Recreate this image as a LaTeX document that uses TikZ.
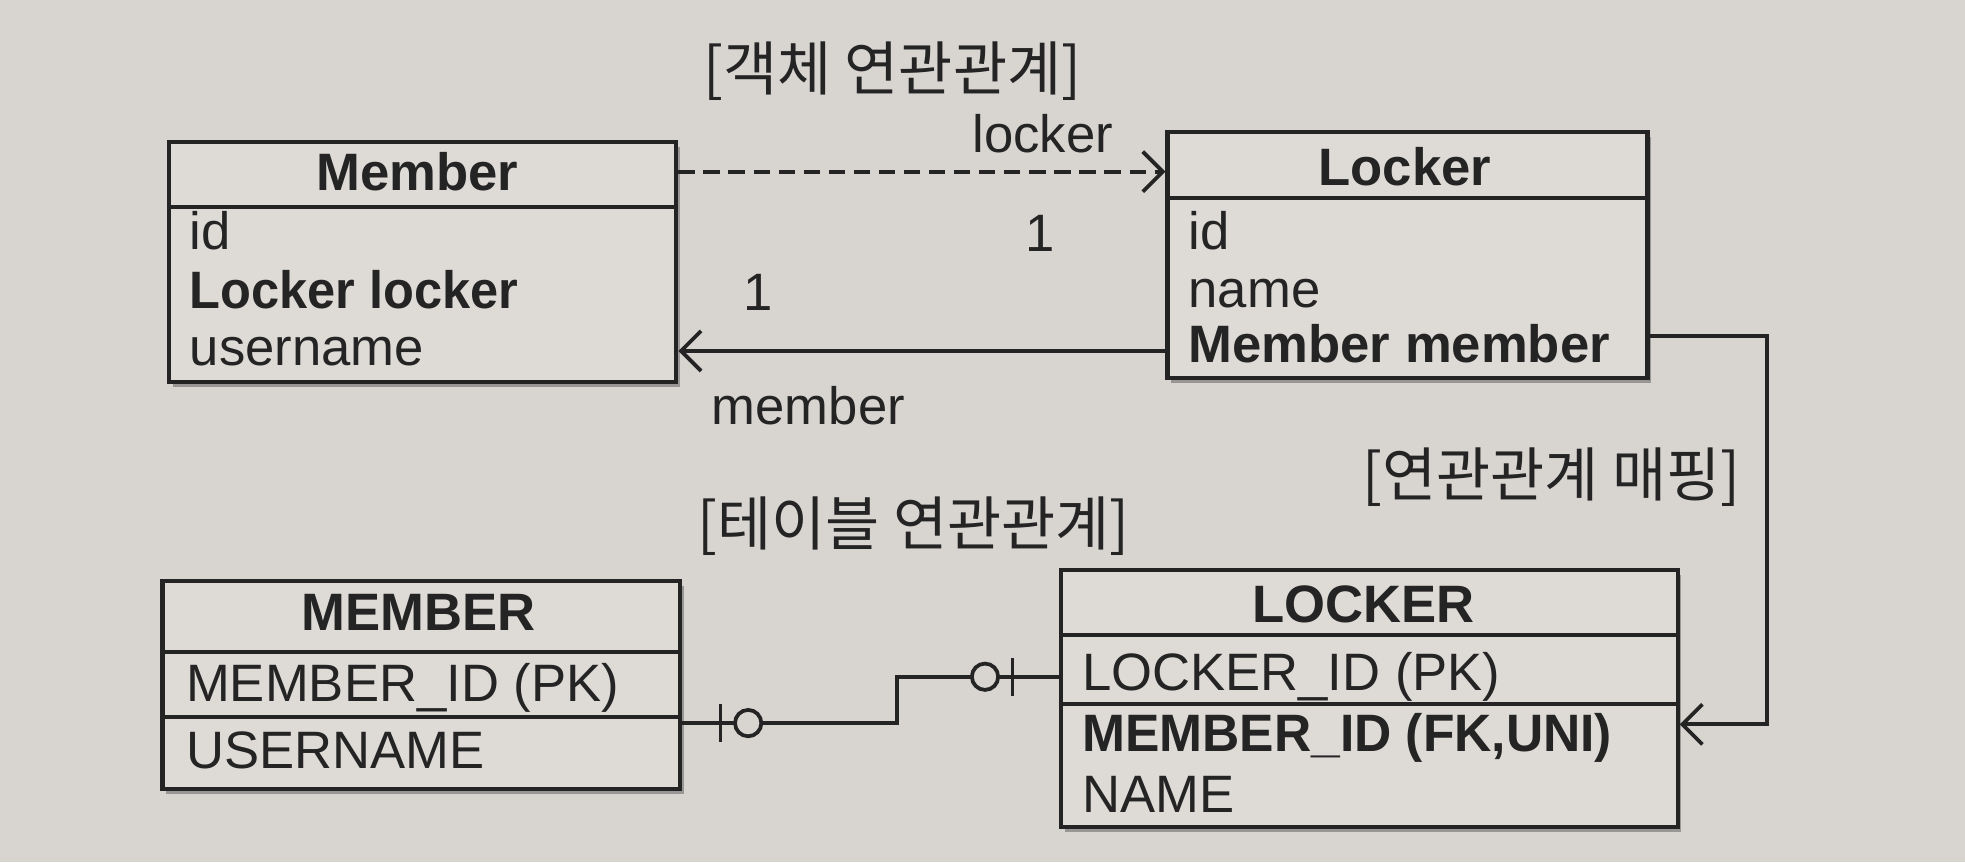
\documentclass[tikz,border=0pt]{standalone}
\usepackage{fontspec}
\setmainfont{Liberation Sans}
\newfontfamily\kr{Noto Sans CJK KR}
\usetikzlibrary{arrows.meta,calc,shadows}
\definecolor{bg}{RGB}{216,213,209}
\definecolor{boxfill}{RGB}{222,219,215}
\definecolor{ink}{RGB}{36,36,36}
\begin{document}
\begin{tikzpicture}[x=1pt,y=-1pt,line width=3pt,draw=ink,
  txt/.style={font=\fontsize{42}{42}\selectfont,inner sep=0pt,text=ink},
  btxt/.style={txt,font=\fontsize{42}{42}\selectfont\bfseries},
  krtxt/.style={font=\fontsize{47}{47}\selectfont\kr,inner sep=0pt,text=ink},
  tablebox/.style={draw=ink,fill=boxfill,line width=3.3pt,anchor=north west,inner sep=0pt,
     drop shadow={shadow xshift=3pt,shadow yshift=-4pt,fill=black!70,opacity=0.45}},
  tip/.style={-{Straight Barb[length=16pt,width=32pt,line width=3pt]}},
  ring/.style={draw=ink,fill=bg,line width=3pt}]
\fill[bg] (0,0) rectangle (1568,688);
\useasboundingbox (0,0) rectangle (1568,688);

% ---------- object model ----------
\node[krtxt] (objtitle) at (712,57) {[객체 연관관계]};

\node[tablebox,minimum width=405pt,minimum height=191pt] (member) at (133,112) {};
\draw[line width=3.3pt] (member.west |- 0,165) -- (member.east |- 0,165);
\node[btxt,anchor=base] (mtitle) at (333,152) {Member};
\node[txt,anchor=base west] (mid) at (150,199) {id};
\node[btxt,anchor=base west,xscale=0.96] (mlocker) at (150,246) {Locker locker};
\node[txt,anchor=base west] (muser) at (150,292) {username};

\node[tablebox,minimum width=383pt,minimum height=196pt] (locker) at (930,104) {};
\draw[line width=3.3pt] (locker.west |- 0,158) -- (locker.east |- 0,158);
\node[btxt,anchor=base] (ltitle) at (1121,148) {Locker};
\node[txt,anchor=base west] (lid) at (947,199) {id};
\node[txt,anchor=base west] (lname) at (947,245) {name};
\node[btxt,anchor=base west] (lmember) at (947,289) {Member member};

\draw[tip,dash pattern=on 13pt off 7pt] (member.east |- 0,137) -- (locker.west |- 0,137);
\node[txt,anchor=base] (lbllocker) at (832,122) {locker};
\node[txt,anchor=base] (one1) at (830,201) {1};

\draw[tip] (locker.west |- 0,280) -- (member.east |- 0,280);
\node[txt,anchor=base] (one2) at (605,248) {1};
\node[txt,anchor=base] (lblmember) at (645,339) {member};

% ---------- mapping ----------
\node[krtxt] (maptitle) at (1238,381) {[연관관계 매핑]};

% ---------- table model ----------
\node[krtxt] (tbltitle) at (729,420) {[테이블 연관관계]};

\node[tablebox,minimum width=413pt,minimum height=166pt] (mtable) at (128,462) {};
\draw[line width=3.3pt] (mtable.west |- 0,520) -- (mtable.east |- 0,520);
\draw[line width=3.3pt] (mtable.west |- 0,572) -- (mtable.east |- 0,572);
\node[btxt,anchor=base] (mttitle) at (334,503) {MEMBER};
\node[txt,anchor=base west] (mtid) at (147,560) {MEMBER\_ID (PK)};
\node[txt,anchor=base west] (mtuser) at (147,613) {USERNAME};

\node[tablebox,minimum width=492pt,minimum height=205pt] (ltable) at (845,453) {};
\draw[line width=3.3pt] (ltable.west |- 0,507) -- (ltable.east |- 0,507);
\draw[line width=3.3pt] (ltable.west |- 0,562) -- (ltable.east |- 0,562);
\node[btxt,anchor=base] (lttitle) at (1088,497) {LOCKER};
\node[txt,anchor=base west] (ltid) at (862,551) {LOCKER\_ID (PK)};
\node[btxt,anchor=base west,xscale=0.98] (ltmid) at (862,600) {MEMBER\_ID (FK,UNI)};
\node[txt,anchor=base west] (ltname) at (862,648) {NAME};

\coordinate (mapturn) at (1410,420);
\draw[tip] (locker.east |- 0,268) -| (mapturn) |- (ltable.east |- 0,578);

% ER relationship
\coordinate (erbend) at (716,560);
\draw (mtable.east |- 0,577) -| (erbend) |- (ltable.west |- 0,540);
\draw (575,562) -- (575,592);
\draw[ring] (597,577) circle (10.5);
\draw (808,525) -- (808,555);
\draw[ring] (786,540) circle (10.5);
\end{tikzpicture}
\end{document}
